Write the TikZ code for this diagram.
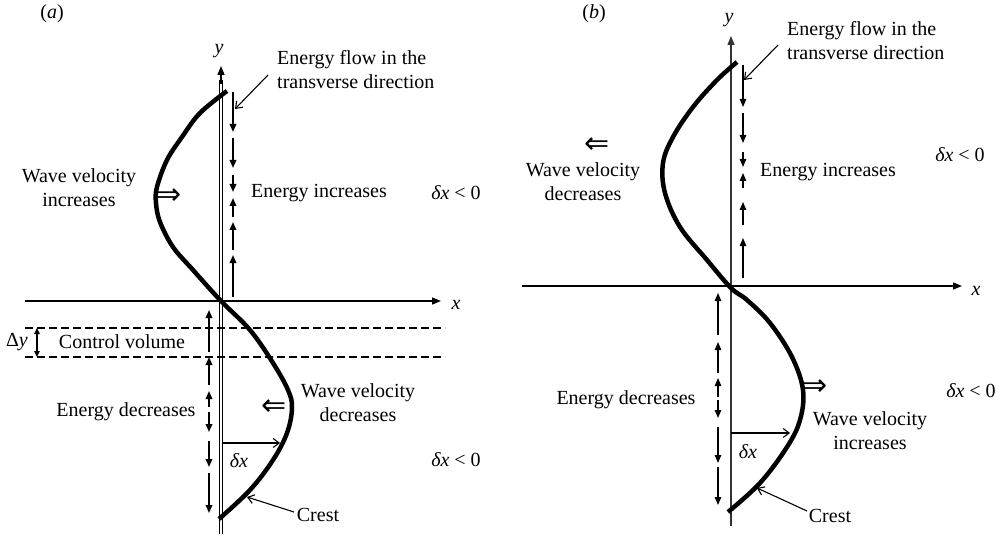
\documentclass[tikz,border=0pt]{standalone}
\usepackage{fontspec}
\setmainfont{Liberation Serif}
\newfontfamily\symfont{DejaVu Sans}
\usetikzlibrary{arrows.meta}
\tikzset{
  txt/.style={inner sep=0pt, align=center},
  axisline/.style={line width=1.4pt, -{Triangle[length=9pt,width=7pt]}},
  thinaxis/.style={line width=0.9pt},
  wave/.style={line width=4.5pt, line join=round},
  earrowA/.style={line width=1.7pt, -{Triangle[length=8pt,width=6.5pt]}},
  earrowB/.style={line width=1.1pt, -{Triangle[length=8pt,width=6.5pt]}},
  ptr/.style={line width=1.1pt, -{Straight Barb[length=6pt,width=9pt]}},
  dashline/.style={line width=1.3pt, dash pattern=on 8pt off 4pt},
  dbl/.style={line width=1.2pt, {Triangle[length=6pt,width=5.5pt]}-{Triangle[length=6pt,width=5.5pt]}},
  sym/.style={inner sep=0pt, font=\symfont\fontsize{30}{30}\selectfont}
}
\begin{document}
\begin{tikzpicture}[x=1pt,y=-1pt,font=\fontsize{20}{24}\selectfont]
\useasboundingbox (0,0) rectangle (1008,537);

% ================= panel (a) =================
\node[txt] (la) at (52,14) {(\textit{a})};
% axes (double-line y axis)
\coordinate (aYbL) at (219.6,534); \coordinate (aYsL) at (219.6,80);
\coordinate (aYbR) at (222.4,534); \coordinate (aYsR) at (222.4,80);
\coordinate (aYt) at (221,66);
\draw[thinaxis] (aYbL) -- (aYsL);
\draw[thinaxis] (aYbR) -- (aYsR);
\draw[axisline] (221,84) -- (aYt);
\node[txt] (aylab) at (219,51) {\textit{y}};
\coordinate (aXl) at (25,301);
\coordinate (aXr) at (441,301);
\draw[axisline] (aXl) -- (aXr);
\node[txt] (axlab) at (456,305) {\textit{x}};
% control volume
\coordinate (cv1l) at (25,328); \coordinate (cv1r) at (445,328);
\coordinate (cv2l) at (25,357); \coordinate (cv2r) at (445,357);
\draw[dashline] (cv1l) -- (cv1r);
\draw[dashline] (cv2l) -- (cv2r);
\coordinate (dyT) at (37,328); \coordinate (dyB) at (37,357);
\draw[dbl] (dyT) -- (dyB);
\node[txt] (dylab) at (17,342) {Δ\textit{y}};
\node[txt] (cvlab) at (122,342) {Control volume};
% wave
\draw[wave] plot[smooth, tension=0.6] coordinates {(227,91) (200,113) (182,137) (167,160) (157,187) (156,203) (160,222) (173,247) (193,270) (221,301) (250,330) (273,363) (288,390) (292,408) (287,433) (273,460) (250,490) (219,519)};
% energy arrows upper
\foreach \s/\e [count=\i] in {92/132,138/168,175/192,217/198,250/222,297/255}{
  \coordinate (au\i s) at (233,\s); \coordinate (au\i e) at (233,\e);
  \draw[earrowA] (au\i s) -- (au\i e);
}
% energy arrows lower
\foreach \s/\e [count=\i] in {352/310,385/357,407/391,412/432,441/467,473/513}{
  \coordinate (al\i s) at (209,\s); \coordinate (al\i e) at (209,\e);
  \draw[earrowA] (al\i s) -- (al\i e);
}
% labels
\node[txt, anchor=west, align=left] (aflow) at (277,70) {Energy flow in the\\transverse direction};
\coordinate (aflowS) at (268,75); \coordinate (aflowE) at (235,109);
\draw[ptr] (aflowS) -- (aflowE);
\node[txt] (ainc) at (319,193) {Energy increases};
\node[txt] (awvi) at (79,188) {Wave velocity\\increases};
\node[sym] (aimp) at (169,197) {⇒};
\node[txt] (adx1) at (456,193) {\textit{δx} < 0};
\node[txt] (adec) at (126,412) {Energy decreases};
\node[sym] (aimpl) at (274,408) {⇐};
\node[txt] (awvd) at (358,403) {Wave velocity\\decreases};
\coordinate (adxS) at (222.4,443); \coordinate (adxE) at (280,443);
\draw[ptr] (adxS) -- (adxE);
\node[txt] (adxl) at (239,461) {\textit{δx}};
\node[txt] (adx2) at (456,460) {\textit{δx} < 0};
\node[txt] (acrest) at (318,515) {Crest};
\coordinate (acrS) at (294,512); \coordinate (acrE) at (247,497);
\draw[ptr] (acrS) -- (acrE);

% ================= panel (b) =================
\node[txt] (lb) at (594,14) {(\textit{b})};
\coordinate (bYb) at (731,526);
\coordinate (bYt) at (731,36);
\draw[axisline, black!80] (bYb) -- (bYt);
\node[txt] (bylab) at (729,20) {\textit{y}};
\coordinate (bXl) at (522,286);
\coordinate (bXr) at (962,286);
\draw[axisline] (bXl) -- (bXr);
\node[txt] (bxlab) at (976,291) {\textit{x}};
% wave
\draw[wave] plot[smooth, tension=0.6] coordinates {(737,62) (717,80) (693,107) (673,137) (663,163) (665,193) (680,227) (707,260) (731,288) (747,300) (770,323) (792,357) (803,390) (800,420) (787,447) (760,483) (728,512)};
% energy arrows upper
\foreach \s/\e [count=\i] in {65/107,113/143,152/167,188/173,225/202,278/238}{
  \coordinate (bu\i s) at (743,\s); \coordinate (bu\i e) at (743,\e);
  \draw[earrowB] (bu\i s) -- (bu\i e);
}
% energy arrows lower
\foreach \s/\e [count=\i] in {335/293,373/342,397/378,400/418,427/463,467/505}{
  \coordinate (bl\i s) at (718,\s); \coordinate (bl\i e) at (718,\e);
  \draw[earrowB] (bl\i s) -- (bl\i e);
}
% labels
\node[txt, anchor=west, align=left] (bflow) at (787,41) {Energy flow in the\\transverse direction};
\coordinate (bflowS) at (778,45); \coordinate (bflowE) at (744,80);
\draw[ptr] (bflowS) -- (bflowE);
\node[txt] (binc) at (828,172) {Energy increases};
\node[sym] (bimpl) at (597,146) {⇐};
\node[txt] (bwvd) at (583,182) {Wave velocity\\decreases};
\node[txt] (bdx1) at (960,155) {\textit{δx} < 0};
\node[txt] (bdec) at (626,400) {Energy decreases};
\node[sym] (bimp) at (815,388) {⇒};
\node[txt] (bwvi) at (870,431) {Wave velocity\\increases};
\node[txt] (bdx2) at (971,391) {\textit{δx} < 0};
\coordinate (bdxS) at (731,433); \coordinate (bdxE) at (790,433);
\draw[ptr] (bdxS) -- (bdxE);
\node[txt] (bdxl) at (748,452) {\textit{δx}};
\node[txt] (bcrest) at (830,516) {Crest};
\coordinate (bcrS) at (807,511); \coordinate (bcrE) at (757,488);
\draw[ptr] (bcrS) -- (bcrE);
\end{tikzpicture}
\end{document}
